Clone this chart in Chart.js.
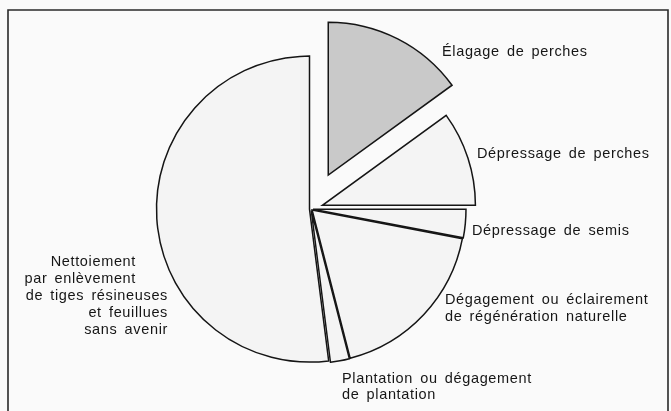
<!DOCTYPE html>
<html>
<head>
<meta charset="utf-8">
<script src="https://cdn.jsdelivr.net/npm/chart.js@4"></script>
<style>
    html, body { margin: 0; padding: 0; background: #fafafa; }
    #chart { display: block; }
</style>
</head>
<body>
<canvas id="chart" width="671" height="411"></canvas>
<script>
// Categories in clockwise order from 12 o'clock
const categories = [
    'Élagage de perches',
    'Dépressage de perches',
    'Dépressage de semis',
    'Dégagement ou éclairement de régénération naturelle',
    'Plantation ou dégagement de plantation',
    'Nettoiement par enlèvement de tiges résineuses et feuillues sans avenir'
];
// share of each treatment (%)
const shares = [15, 10, 3, 18, 2, 52];

// label text lines, one entry per category
const labelLines = [
    ['Élagage de perches'],
    ['Dépressage de perches'],
    ['Dépressage de semis'],
    ['Dégagement ou éclairement', 'de régénération naturelle'],
    ['Plantation ou dégagement', 'de plantation'],
    ['Nettoiement', 'par enlèvement', 'de tiges résineuses', 'et feuillues', 'sans avenir']
];

// where each label line goes (x, baseline y, alignment)
const labelLayout = [
    [[442, 56, 'left']],
    [[477, 158, 'left']],
    [[472, 235, 'left']],
    [[445, 304, 'left'], [445, 321, 'left']],
    [[342, 383, 'left'], [342, 399, 'left']],
    [[136, 266, 'right'], [136, 283, 'right'], [168, 300, 'right'], [168, 317, 'right'], [168, 334, 'right']]
];

// how far each slice is pulled out of the pie (px)
const explode = [38, 12, 2, 1.5, 1.5, 1.5];

const frame = {
    id: 'frame',
    beforeDraw(chart) {
        const ctx = chart.ctx;
        ctx.save();
        ctx.fillStyle = '#fafafa';
        ctx.fillRect(0, 0, chart.width, chart.height);
        ctx.strokeStyle = '#2a2a2a';
        ctx.lineWidth = 1.6;
        ctx.beginPath();
        ctx.moveTo(8, chart.height);
        ctx.lineTo(8, 10);
        ctx.lineTo(668, 10);
        ctx.lineTo(668, chart.height);
        ctx.stroke();
        ctx.restore();
    }
};

// draw the arcs ourselves so a pulled-out slice keeps its radius
const explodedSlices = {
    id: 'explodedSlices',
    beforeDatasetDraw(chart, args) {
        const ctx = chart.ctx;
        args.meta.data.forEach((arc, i) => {
            const mid = (arc.startAngle + arc.endAngle) / 2;
            const d = explode[i] || 0;
            ctx.save();
            ctx.translate(Math.cos(mid) * d, Math.sin(mid) * d);
            arc.draw(ctx, chart.chartArea);
            ctx.restore();
        });
        return false;
    }
};

const sliceLabels = {
    id: 'sliceLabels',
    afterDraw(chart) {
        const ctx = chart.ctx;
        ctx.save();
        ctx.fillStyle = '#161616';
        ctx.font = '14.5px "Liberation Sans", Arial, sans-serif';
        ctx.letterSpacing = '0.65px';
        ctx.wordSpacing = '2.5px';
        ctx.textBaseline = 'alphabetic';
        labelLines.forEach((lines, i) => {
            lines.forEach((text, j) => {
                const [x, y, align] = labelLayout[i][j];
                ctx.textAlign = align;
                ctx.fillText(text, x, y);
            });
        });
        ctx.restore();
    }
};

new Chart(document.getElementById('chart'), {
    type: 'pie',
    data: {
        labels: categories,
        datasets: [{
            data: shares,
            backgroundColor: ['#c9c9c9', '#f4f4f4', '#f4f4f4', '#f4f4f4', '#f4f4f4', '#f4f4f4'],
            borderColor: '#151515',
            borderWidth: 1.5,
            borderJoinStyle: 'miter'
        }]
    },
    options: {
        responsive: false,
        animation: false,
        radius: 153,
        layout: { padding: { left: 0, right: 49, top: 7, bottom: 0 } },
        plugins: {
            legend: { display: false },
            tooltip: { enabled: false }
        }
    },
    plugins: [frame, explodedSlices, sliceLabels]
});
</script>
</body>
</html>
